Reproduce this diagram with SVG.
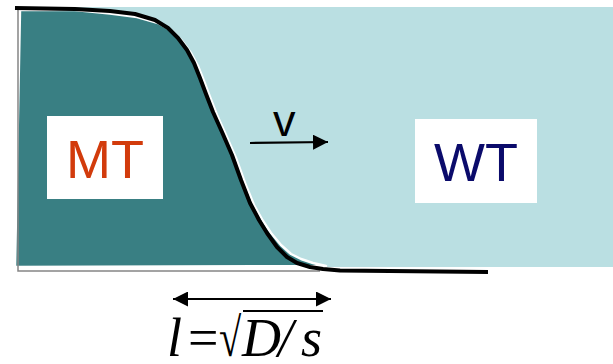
<svg xmlns="http://www.w3.org/2000/svg" width="613" height="364" viewBox="0 0 613 364">
<defs>
<style>
.lbl{font-family:"Liberation Sans",Arial,sans-serif;font-size:54px}
.math{font-family:"Liberation Serif","Times New Roman",serif;font-size:54px}
.conn{stroke:#000;stroke-width:2.2;fill:none}
</style>
<marker id="ah" viewBox="0 0 15 15" refX="15" refY="7.5" markerWidth="15" markerHeight="15" markerUnits="userSpaceOnUse" orient="auto-start-reverse">
<path d="M0,0 L15,7.5 L0,15 Z" fill="#000"/>
</marker>
</defs>
<rect width="613" height="364" fill="#fff"/>
<g id="background">
<rect x="20" y="7" width="593" height="260" fill="#badfe2"/>
<path d="M20,10 L75,10 L110,13.5 L137,17 L158,23 L172,31 L182,41 L191,53 L198,66 L204,81 L210,97 L217,115 L226,135 L236,158 L245,183 L254,205 L263,221 L271,233 L281,245 L291,254 L301,259 L313,263 L326,266 L15,267 Z" fill="#397f83" stroke="#fff" stroke-width="2.5" stroke-linejoin="round"/>
<path d="M20,8.5 L75,9.5" stroke="#397f83" stroke-width="2"/>
<polyline points="18,10 18,271 320,271" fill="none" stroke="#858585" stroke-width="1.5"/>
</g>
<g id="curve">
<polyline points="15,8 75,9 110,11 135,14 155,20 168,28 178,38 187,50 194,63 200,78 206,94 213,112 222,132 232,155 241,180 250,203 259,220 267,233 277,247 287,257 297,263 310,267 323,269 340,270.5 488,272" fill="none" stroke="#000" stroke-width="4" stroke-linejoin="round"/>
</g>
<g id="MT">
<rect x="47" y="116" width="116" height="83" fill="#fff"/>
<text class="lbl" x="66" y="178" fill="#d23b0c">MT</text>
</g>
<g id="WT">
<rect x="415" y="119" width="122" height="84" fill="#fff"/>
<text class="lbl" x="434" y="181" fill="#0b0b6b">WT</text>
</g>
<g id="connectors">
<line class="conn" x1="250" y1="143" x2="328" y2="142" marker-end="url(#ah)"/>
<line class="conn" x1="173" y1="299" x2="331" y2="299" marker-start="url(#ah)" marker-end="url(#ah)"/>
</g>
<g id="labels">
<text x="273" y="136" font-family="Liberation Sans,Arial,sans-serif" font-size="45" fill="#000">v</text>
<text class="math" y="356" fill="#000"><tspan x="167" font-style="italic">l</tspan><tspan x="188">=</tspan><tspan x="242" font-style="italic">D</tspan><tspan x="278" font-style="italic">/</tspan><tspan x="301" font-style="italic">s</tspan></text>
<text class="math" font-size="63" transform="translate(219,356) scale(0.75,1)" fill="#000">√</text>
<line x1="243" y1="311" x2="323" y2="311" stroke="#000" stroke-width="2.2"/>
</g>
</svg>
